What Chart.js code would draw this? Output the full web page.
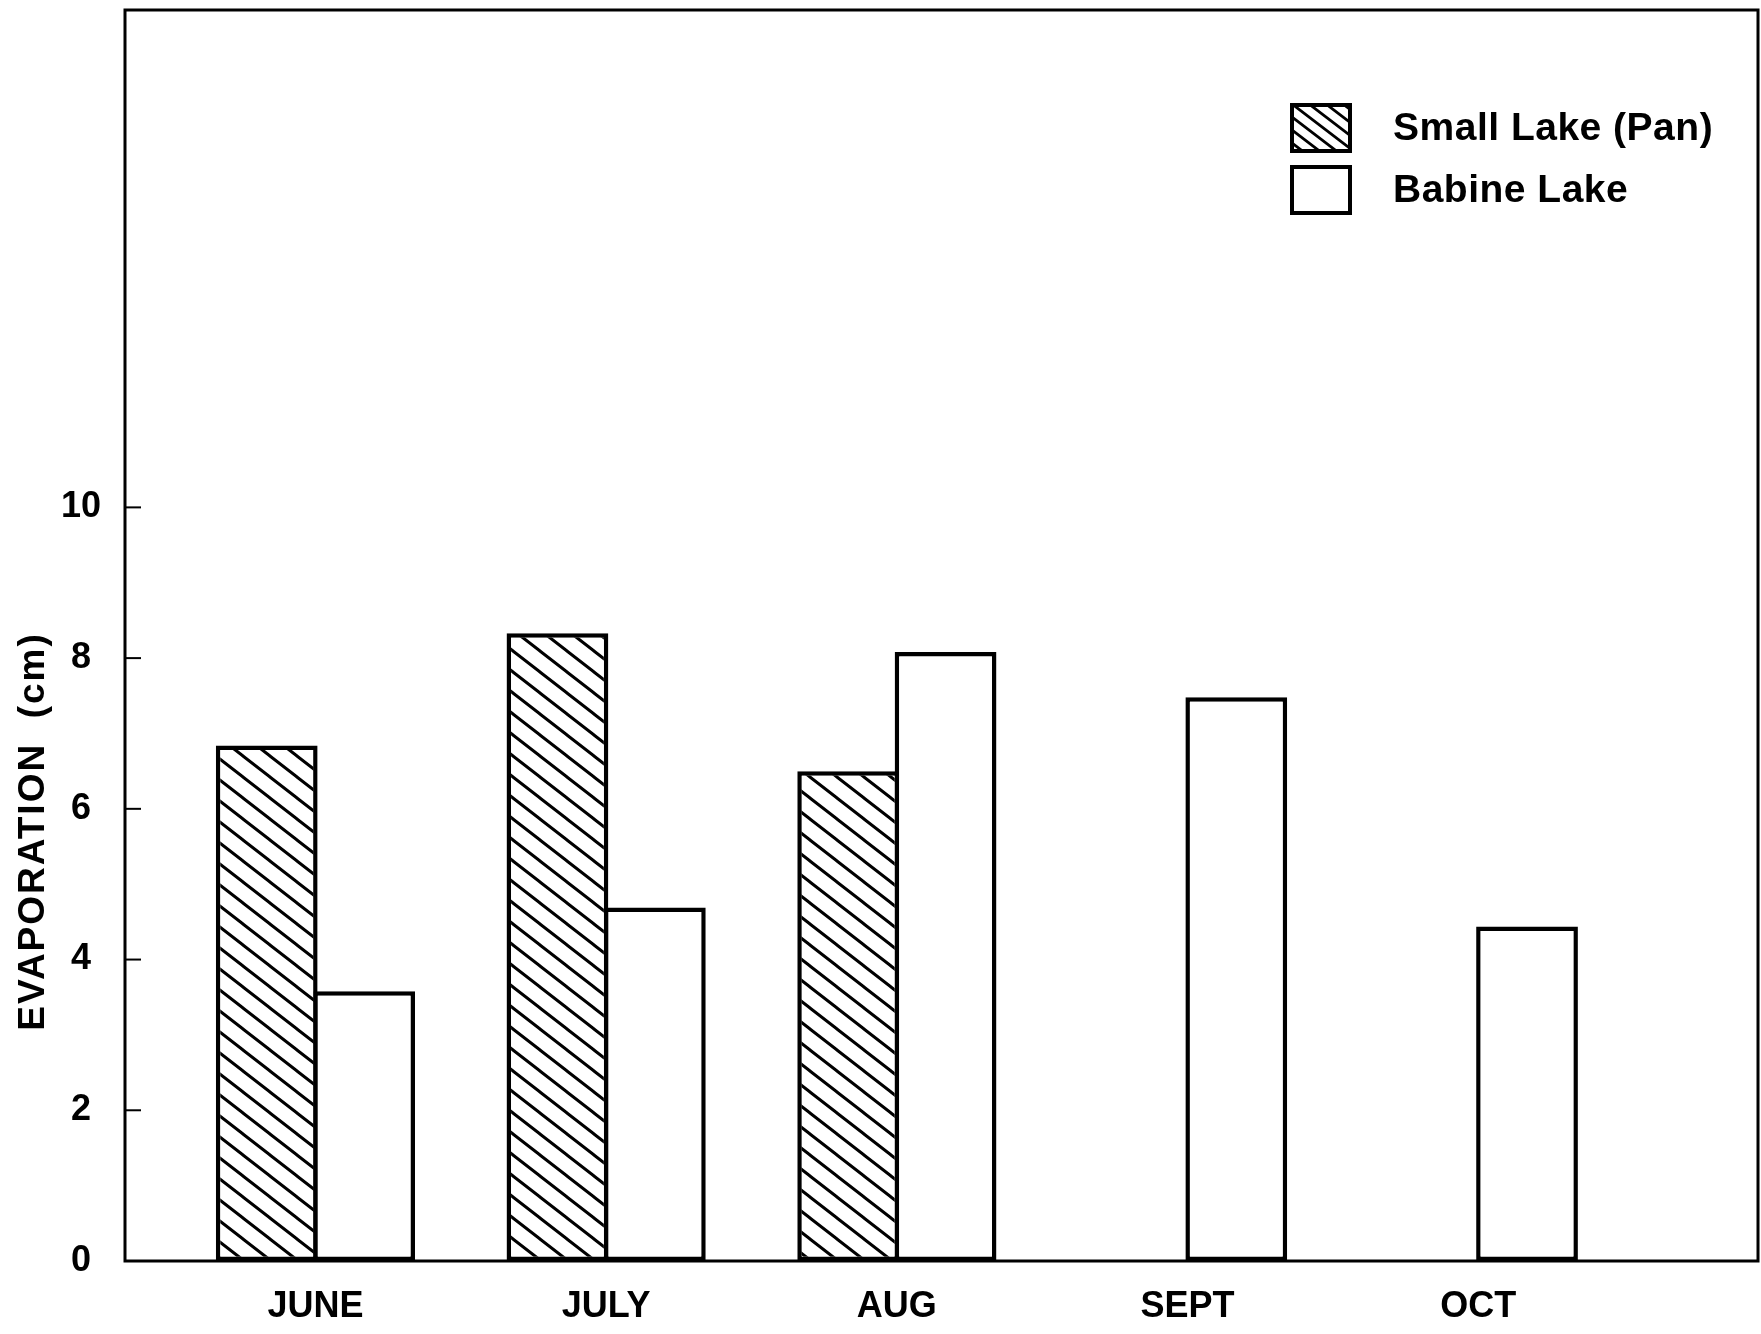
<!DOCTYPE html>
<html>
<head>
<meta charset="utf-8">
<title>Evaporation</title>
<script src="https://cdn.jsdelivr.net/npm/chart.js@4"></script>
<style>
  body { margin: 0; background: #fff; }
  #wrap { width: 1761px; height: 1334px; }
</style>
</head>
<body>
<div id="wrap"><canvas id="chart"></canvas></div>
<script>
// data (cm)
const months = ["JUNE", "JULY", "AUG", "SEPT", "OCT"];
const smallLake = [6.84, 8.33, 6.50, null, null];
const babineLake = [3.58, 4.69, 8.08, 7.48, 4.44];
const yTicks = [0, 2, 4, 6, 8, 10];
const seriesNames = ["Small Lake (Pan)", "Babine Lake"];
const yTitle = "EVAPORATION  (cm)";

const FONT = "'Liberation Sans', Arial, sans-serif";
Chart.defaults.font.family = FONT;
Chart.defaults.color = "#000";

// diagonal "\\\" hatch
function hatch(w, h, lw) {
    const c = document.createElement("canvas");
    c.width = w;
    c.height = h;
    const g = c.getContext("2d");
    g.fillStyle = "#fff";
    g.fillRect(0, 0, w, h);
    g.strokeStyle = "#000";
    g.lineWidth = lw;
    g.beginPath();
    g.moveTo(-w, -h); g.lineTo(2 * w, 2 * h);
    g.moveTo(-w, 0); g.lineTo(w, 2 * h);
    g.moveTo(0, -h); g.lineTo(2 * w, h);
    g.stroke();
    return g.createPattern(c, "repeat");
}

const barHatch = hatch(27, 21, 3);
const legendHatch = hatch(17, 13, 2.8);

// box, inward y ticks, rotated axis title and legend
const framePlugin = {
    id: "frame",
    afterDraw(chart) {
        const ctx = chart.ctx;
        const a = chart.chartArea;
        const y = chart.scales.y;

        ctx.save();
        ctx.strokeStyle = "#000";
        ctx.lineWidth = 3;
        ctx.strokeRect(a.left, a.top, a.right - a.left, a.bottom - a.top);

        ctx.lineWidth = 2;
        yTicks.forEach(v => {
            const py = y.getPixelForValue(v);
            ctx.beginPath();
            ctx.moveTo(a.left, py);
            ctx.lineTo(a.left + 16, py);
            ctx.stroke();
        });
        ctx.restore();

        // y title
        ctx.save();
        ctx.fillStyle = "#000";
        ctx.font = "bold 37px " + FONT;
        ctx.letterSpacing = "2px";
        ctx.textAlign = "center";
        ctx.textBaseline = "middle";
        ctx.translate(34, y.getPixelForValue(5.7));
        ctx.rotate(-Math.PI / 2);
        ctx.fillText(yTitle, 0, 0);
        ctx.restore();

        // legend
        ctx.save();
        const x0 = a.right - 468;
        const y0 = a.top + 93;
        chart.data.datasets.forEach((ds, i) => {
            const by = y0 + i * 62;
            ctx.fillStyle = i === 0 ? legendHatch : "#fff";
            ctx.fillRect(x0, by, 62, 50);
            ctx.strokeStyle = "#000";
            ctx.lineWidth = 4;
            ctx.strokeRect(x0 + 2, by + 2, 58, 46);
            ctx.fillStyle = "#000";
            ctx.font = "bold 39px " + FONT;
            ctx.letterSpacing = "0.5px";
            ctx.textAlign = "left";
            ctx.textBaseline = "middle";
            ctx.fillText(ds.label, x0 + 103, by + 26);
        });
        ctx.restore();
    }
};

new Chart(document.getElementById("chart"), {
    type: "bar",
    data: {
        datasets: [
            {
                label: seriesNames[0],
                data: months.map((m, i) => ({ x: i, y: smallLake[i] })),
                backgroundColor: barHatch,
                borderColor: "#000",
                borderWidth: 4.5,
                borderSkipped: false,
                categoryPercentage: 0.67,
                barPercentage: 1.045
            },
            {
                label: seriesNames[1],
                data: months.map((m, i) => ({ x: i, y: babineLake[i] })),
                backgroundColor: "#fff",
                borderColor: "#000",
                borderWidth: 4.5,
                borderSkipped: false,
                categoryPercentage: 0.67,
                barPercentage: 1.045
            }
        ]
    },
    options: {
        responsive: true,
        maintainAspectRatio: false,
        animation: false,
        layout: { padding: { top: 10, right: 3, left: 0, bottom: 0 } },
        plugins: {
            legend: { display: false },
            tooltip: { enabled: false }
        },
        scales: {
            x: {
                type: "linear",
                offset: false,
                min: -0.655,
                max: 4.962,
                grid: { display: false, drawTicks: false, offset: false },
                border: { display: false },
                ticks: {
                    padding: 24,
                    maxRotation: 0,
                    font: { size: 36, weight: "bold" },
                    callback: v => months[v]
                },
                afterBuildTicks: s => { s.ticks = months.map((m, i) => ({ value: i })); },
                afterFit: s => { s.height = 73; s.paddingLeft = 0; s.paddingRight = 0; }
            },
            y: {
                min: 0,
                max: 16.6,
                grid: { display: false, drawTicks: false },
                border: { display: false },
                ticks: {
                    padding: 24,
                    crossAlign: "center",
                    font: { size: 36, weight: "bold" }
                },
                afterBuildTicks: s => { s.ticks = yTicks.map(v => ({ value: v })); },
                afterFit: s => { s.width = 125; s.paddingTop = 0; s.paddingBottom = 0; }
            }
        }
    },
    plugins: [framePlugin]
});
</script>
</body>
</html>
